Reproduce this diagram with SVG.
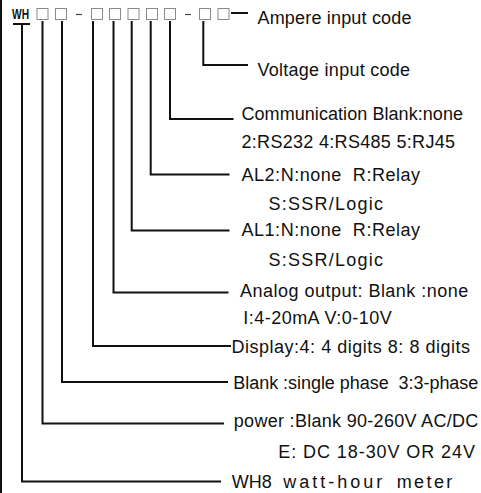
<svg xmlns="http://www.w3.org/2000/svg" width="481" height="493" viewBox="0 0 481 493">
<style>
.bg{fill:#ffffff}
.box{fill:none;stroke:#8a8a8a;stroke-width:1}
.dash{stroke:#444;stroke-width:1.2}
.ln{fill:none;stroke:#111;stroke-width:2}
.t{font-family:"Liberation Sans",Arial,sans-serif;font-size:18px;fill:#111;white-space:pre}
.wh{font-family:"Liberation Sans",Arial,sans-serif;font-size:14px;font-weight:bold;fill:#111}
</style>
<rect class="bg" x="0" y="0" width="481" height="493"/>
<line class="ln" x1="1" y1="0" x2="1" y2="493"/>
<g id="code">
<text class="wh" x="12" y="19" textLength="17" lengthAdjust="spacingAndGlyphs">WH</text>
<rect class="box" x="37" y="8.5" width="11" height="11"/>
<rect class="box" x="55.5" y="8.5" width="11" height="11"/>
<line class="dash" x1="76" y1="14.5" x2="82" y2="14.5"/>
<rect class="box" x="91.5" y="8.5" width="11" height="11"/>
<rect class="box" x="109.5" y="8.5" width="11" height="11"/>
<rect class="box" x="128" y="8.5" width="11" height="11"/>
<rect class="box" x="146.5" y="8.5" width="11" height="11"/>
<rect class="box" x="164.5" y="8.5" width="11" height="11"/>
<line class="dash" x1="185" y1="14.5" x2="191" y2="14.5"/>
<rect class="box" x="199.5" y="8.5" width="11" height="11"/>
<rect class="box" x="218" y="8.5" width="11" height="11"/>
</g>
<g id="connectors">
<line class="ln" x1="13" y1="24" x2="30" y2="24"/>
<polyline class="ln" points="22,24 22,481.5 221,481.5"/>
<polyline class="ln" points="42.5,21 42.5,423.5 224,423.5"/>
<polyline class="ln" points="62,21 62,382 228,382"/>
<polyline class="ln" points="93,21 93,346 231,346"/>
<polyline class="ln" points="113.5,21 113.5,292.5 228.5,292.5"/>
<polyline class="ln" points="131.7,21 131.7,230.5 229.5,230.5"/>
<polyline class="ln" points="150.7,21 150.7,174.5 229.5,174.5"/>
<polyline class="ln" points="170,21 170,119 233.5,119"/>
<polyline class="ln" points="203.3,21 203.3,65 248,65"/>
<line class="ln" x1="231" y1="13" x2="248" y2="13"/>
</g>
<g id="n-ampere"><text class="t" x="257.5" y="23.5" textLength="154" lengthAdjust="spacing">Ampere input code</text></g>
<g id="n-voltage"><text class="t" x="257.5" y="76" textLength="152.5" lengthAdjust="spacing">Voltage input code</text></g>
<g id="n-comm"><text class="t" x="241.5" y="120" textLength="221.5" lengthAdjust="spacing">Communication Blank:none</text><text class="t" x="241.5" y="148" textLength="213.5" lengthAdjust="spacing">2:RS232 4:RS485 5:RJ45</text></g>
<g id="n-al2"><text class="t" x="241.5" y="180.5" textLength="178.5" lengthAdjust="spacing">AL2:N:none  R:Relay</text><text class="t" x="268.5" y="209.5" textLength="114.5" lengthAdjust="spacing">S:SSR/Logic</text></g>
<g id="n-al1"><text class="t" x="241.5" y="236" textLength="178.5" lengthAdjust="spacing">AL1:N:none  R:Relay</text><text class="t" x="268.5" y="266" textLength="114.5" lengthAdjust="spacing">S:SSR/Logic</text></g>
<g id="n-analog"><text class="t" x="240" y="297" textLength="228.3" lengthAdjust="spacing">Analog output: Blank :none</text><text class="t" x="243.3" y="324" textLength="148.4" lengthAdjust="spacing">I:4-20mA V:0-10V</text></g>
<g id="n-display"><text class="t" x="231.5" y="352.5" textLength="238.5" lengthAdjust="spacing">Display:4: 4 digits 8: 8 digits</text></g>
<g id="n-phase"><text class="t" x="233.3" y="389" textLength="245" lengthAdjust="spacing">Blank :single phase  3:3-phase</text></g>
<g id="n-power"><text class="t" x="233.8" y="427" textLength="244.5" lengthAdjust="spacing">power :Blank 90-260V AC/DC</text><text class="t" x="278.3" y="457.5" textLength="196.7" lengthAdjust="spacing">E: DC 18-30V OR 24V</text></g>
<g id="n-wh8"><text class="t" x="231.7" y="487.5" textLength="40" lengthAdjust="spacing">WH8</text><text class="t" x="283.3" y="487.5" textLength="99" lengthAdjust="spacing">watt-hour</text><text class="t" x="396.7" y="487.5" textLength="55.6" lengthAdjust="spacing">meter</text></g>
</svg>
